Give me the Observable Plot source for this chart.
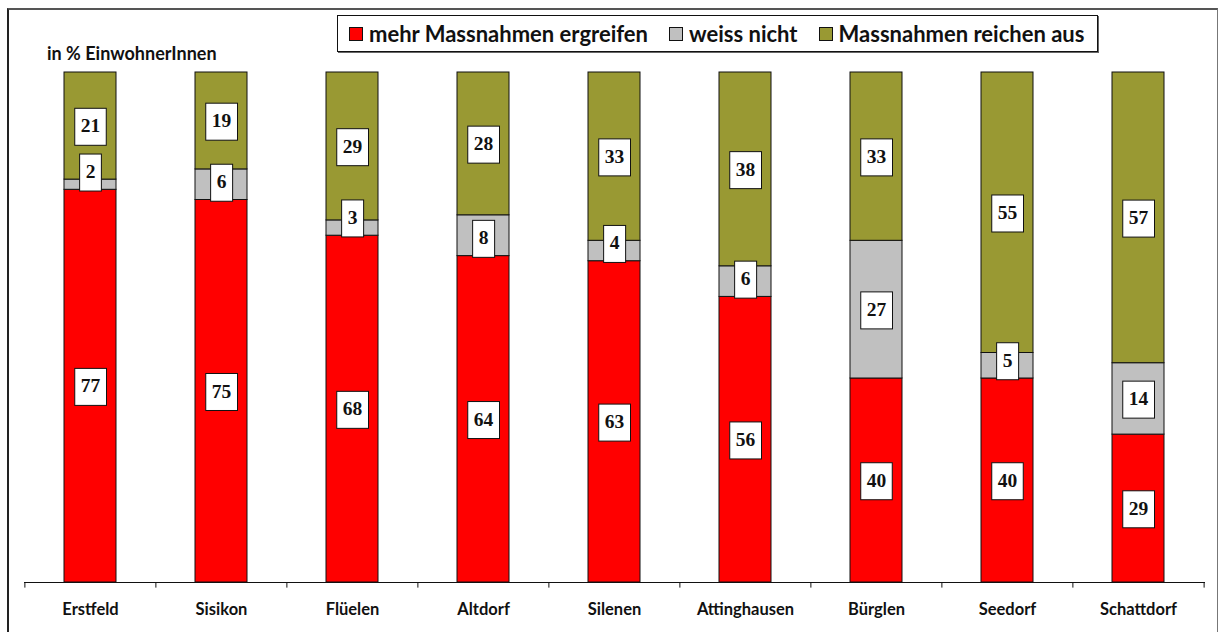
<!DOCTYPE html>
<html>
<head>
<meta charset="utf-8">
<script src="https://cdn.jsdelivr.net/npm/d3@7"></script>
<script src="https://cdn.jsdelivr.net/npm/@observablehq/plot@0.6"></script>
<style>
  html, body { margin: 0; padding: 0; background: #fff; }
  #wrap { position: relative; width: 1218px; height: 632px; overflow: hidden; font-family: Lato, "Open Sans", sans-serif; }
  #frame { position: absolute; left: 7px; top: 8px; width: 1208px; height: 640px; border-left: 2px solid #222; border-top: 2px solid #555; border-right: 1px solid #777; }
  #unit { position: absolute; left: 47px; top: 42px; font-weight: 700; font-size: 18px; color: #111; }
  #legend { position: absolute; left: 337px; top: 15px; width: 759px; height: 35px; border: 1px solid #111; box-shadow: 1px 1px 0 #666; background: #fff; display: flex; align-items: center; font-weight: 700; font-size: 22px; color: #111; box-sizing: content-box; }
  .item { display: flex; align-items: center; margin-left: 11px; margin-right: 10px; }
  .sw { width: 12px; height: 12px; border: 1px solid #111; margin-right: 6px; }
  svg { position: absolute; left: 0; top: 0; }
</style>
</head>
<body>
<div id="wrap">
  <div id="frame"></div>
  <div id="legend"></div>
  <div id="unit">in % EinwohnerInnen</div>
</div>
<script>
const categories = ["Erstfeld", "Sisikon", "Flüelen", "Altdorf", "Silenen", "Attinghausen", "Bürglen", "Seedorf", "Schattdorf"];
const seriesNames = ["mehr Massnahmen ergreifen", "weiss nicht", "Massnahmen reichen aus"];
const seriesColors = ["#FF0000", "#C0C0C0", "#999933"];
const mehr = [77, 75, 68, 64, 63, 56, 40, 40, 29];
const weissNicht = [2, 6, 3, 8, 4, 6, 27, 5, 14];
const reichenAus = [21, 19, 29, 28, 33, 38, 33, 55, 57];

const seriesValues = [mehr, weissNicht, reichenAus];

const W = 1218, H = 632;
const mL = 24, mR = 13, mT = 72, mB = 50;
const step = (W - mL - mR) / categories.length;

// long table
const rows = [];
categories.forEach((c, i) => {
  let base = 0;
  seriesNames.forEach((s, k) => {
    const v = seriesValues[k][i];
    rows.push({cat: c, series: s, value: v, y1: base, y2: base + v});
    base += v;
  });
});

// label positions
const labels = rows.map(d => {
  const small = d.series === "weiss nicht" && d.value < 10;
  return {...d, ly: small ? d.y1 : (d.y1 + d.y2) / 2, small};
});

const plot = Plot.plot({
  width: W,
  height: H,
  marginLeft: mL,
  marginRight: mR,
  marginTop: mT,
  marginBottom: mB,
  style: {background: "transparent", overflow: "visible"},
  x: {domain: categories, paddingInner: 0.6, paddingOuter: 0.3, label: null},
  y: {domain: [0, 100], axis: null},
  color: {domain: seriesNames, range: seriesColors},
  marks: [
    Plot.rectY(rows, {x: "cat", y1: "y1", y2: "y2", fill: "series", stroke: "#111", strokeWidth: 1}),
    Plot.ruleY([0], {stroke: "#111", strokeWidth: 1}),
    Plot.ruleX(categories, {x: d => d, y1: 0, y2: -1.1, dx: -step / 2, stroke: "#111"}),
    Plot.ruleX([categories[categories.length - 1]], {x: d => d, y1: 0, y2: -1.1, dx: step / 2, stroke: "#111"}),
    Plot.axisX({tickSize: 0, tickPadding: 21, fontSize: 16.5, fontWeight: "bold", fill: "#111", label: null}),
    Plot.text(labels.filter(d => !d.small), {x: "cat", y: "ly", text: d => String(d.value), fontSize: 19.5, fontWeight: "bold", fontFamily: "'Liberation Serif', serif", fill: "#111", lineAnchor: "middle"}),
    Plot.text(labels.filter(d => d.small), {x: "cat", y: "ly", dy: -18, text: d => String(d.value), fontSize: 19.5, fontWeight: "bold", fontFamily: "'Liberation Serif', serif", fill: "#111", lineAnchor: "middle"})
  ]
});
plot.style.fontFamily = "Lato, 'Open Sans', sans-serif";
document.getElementById("wrap").appendChild(plot);

// white boxes behind value labels
plot.querySelectorAll('g[aria-label="text"] text').forEach(t => {
  const b = t.getBBox();
  const cx = b.x + b.width / 2, cy = b.y + b.height / 2;
  const w = b.width + 12, h = 37;
  const r = document.createElementNS("http://www.w3.org/2000/svg", "rect");
  const m = t.getAttribute("transform");
  r.setAttribute("x", cx - w / 2);
  r.setAttribute("y", cy - h / 2 + 1);
  r.setAttribute("width", w);
  r.setAttribute("height", h);
  r.setAttribute("fill", "#fff");
  r.setAttribute("stroke", "#111");
  r.setAttribute("stroke-width", 1);
  if (m) r.setAttribute("transform", m);
  t.parentNode.insertBefore(r, t);
});

// legend
const leg = document.getElementById("legend");
seriesNames.forEach((s, k) => {
  const it = document.createElement("div");
  it.className = "item";
  const sw = document.createElement("div");
  sw.className = "sw";
  sw.style.background = seriesColors[k];
  const tx = document.createElement("span");
  tx.textContent = s;
  it.appendChild(sw);
  it.appendChild(tx);
  leg.appendChild(it);
});
</script>
</body>
</html>
